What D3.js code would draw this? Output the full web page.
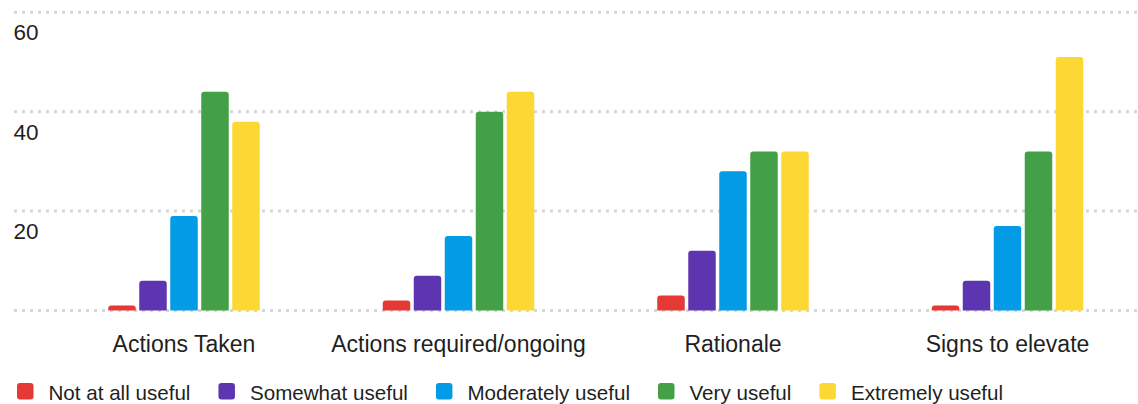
<!DOCTYPE html>
<html lang="en">
<head>
<meta charset="UTF-8">
<title>Usefulness ratings</title>
<style>
  body { margin: 0; background: #fff; }
  text { font-family: "Liberation Sans", Arial, sans-serif; fill: #1f1f1f; }
  .grid line { stroke: #d6d6d6; stroke-width: 3; stroke-dasharray: 3 5; }
</style>
</head>
<body>
<div id="chart"></div>
<script src="https://d3js.org/d3.v7.min.js"></script>
<script>
// data
const categories = ["Actions Taken", "Actions required/ongoing", "Rationale", "Signs to elevate"]
const seriesNames = ["Not at all useful", "Somewhat useful", "Moderately useful", "Very useful", "Extremely useful"]
const seriesColors = ["#e53935", "#5e35b1", "#039be5", "#43a047", "#fdd835"]
const notAtAll   = [1, 2, 3, 1]
const somewhat   = [6, 7, 12, 6]
const moderately = [19, 15, 28, 17]
const very       = [44, 40, 32, 32]
const extremely  = [38, 44, 32, 51]
const yTicks = [0, 20, 40, 60]

const series = [notAtAll, somewhat, moderately, very, extremely]

const width = 1138, height = 404

const svg = d3.select("#chart").append("svg")
  .attr("width", width)
  .attr("height", height)

const y = d3.scaleLinear().domain([0, 60]).range([310.5, 12.3])

const x0 = d3.scaleBand().domain(categories).range([46.75, 1144.75]).padding(0)
const x1 = d3.scaleBand().domain(d3.range(seriesNames.length))
  .range([-75.75, 75.75]).paddingInner(0.113).paddingOuter(0)

// dotted gridlines
svg.append("g").attr("class", "grid")
  .selectAll("line")
  .data(yTicks)
  .join("line")
    .attr("x1", 14).attr("x2", width)
    .attr("y1", d => y(d)).attr("y2", d => y(d))

// tick labels sit below their gridline, 0 is not labelled
svg.append("g")
  .selectAll("text")
  .data(yTicks.filter(d => d > 0))
  .join("text")
    .attr("x", 13.5)
    .attr("y", d => y(d) + 28)
    .attr("font-size", 22.5)
    .text(d => d)

// bar with rounded top corners
const topRounded = (x, y0, w, h, r) => {
  r = Math.min(r, h, w / 2)
  return `M${x},${y0 + h}V${y0 + r}Q${x},${y0} ${x + r},${y0}H${x + w - r}Q${x + w},${y0} ${x + w},${y0 + r}V${y0 + h}Z`
}

const bars = []
categories.forEach((c, ci) => {
  series.forEach((s, si) => bars.push({cat: c, si: si, value: s[ci]}))
})

svg.append("g")
  .selectAll("path")
  .data(bars)
  .join("path")
    .attr("fill", d => seriesColors[d.si])
    .attr("d", d => {
      const bx = x0(d.cat) + x0.bandwidth() / 2 + x1(d.si)
      return topRounded(bx, y(d.value), x1.bandwidth(), y(0) - y(d.value), 3)
    })

// category labels
svg.append("g")
  .selectAll("text")
  .data(categories)
  .join("text")
    .attr("x", d => x0(d) + x0.bandwidth() / 2)
    .attr("y", 351.5)
    .attr("text-anchor", "middle")
    .attr("font-size", 23)
    .text(d => d)

// legend, laid out left to right
const legend = svg.append("g")
let lx = 17
seriesNames.forEach((name, i) => {
  const g = legend.append("g").attr("transform", `translate(${lx},0)`)
  g.append("rect")
    .attr("x", 0).attr("y", 383)
    .attr("width", 16.5).attr("height", 16.5)
    .attr("rx", 3)
    .attr("fill", seriesColors[i])
  const t = g.append("text")
    .attr("x", 31.5).attr("y", 399.5)
    .attr("font-size", 20.6)
    .text(name)
  lx += 31.5 + t.node().getComputedTextLength() + 28
})
</script>
</body>
</html>
